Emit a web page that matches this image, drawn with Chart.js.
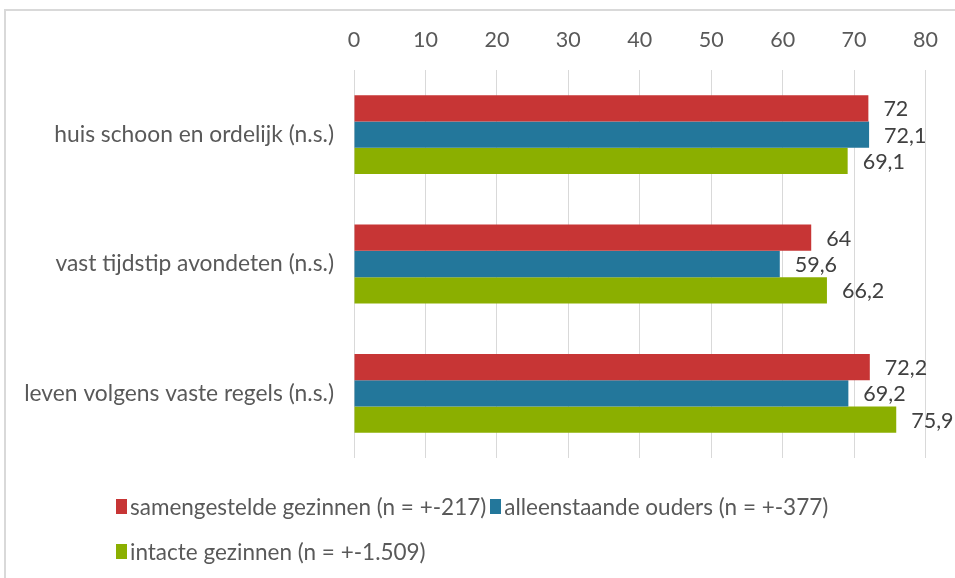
<!DOCTYPE html>
<html>
<head>
<meta charset="utf-8">
<script src="https://cdn.jsdelivr.net/npm/chart.js@4.4.1/dist/chart.umd.min.js"></script>
<style>
  body { margin: 0; background: #fff; }
  #wrap { position: relative; width: 955px; height: 578px; overflow: hidden; }
  #frame { position: absolute; left: 4px; top: 9px; width: 1000px; height: 700px; border: 2px solid #d9d9d9; box-sizing: border-box; }
  canvas { position: absolute; left: 0; top: 0; }
  .legend { position: absolute; left: 116px; font-family: Lato, sans-serif; font-size: 22.5px; color: #595959; white-space: nowrap; line-height: 26px; }
  .legend span.item { display: inline-flex; align-items: center; margin-right: 4px; }
  .legend i { display: inline-block; width: 11px; height: 15px; margin-right: 3px; }
</style>
</head>
<body>
<div id="wrap">
  <div id="frame"></div>
  <canvas id="chart" width="955" height="578"></canvas>
  <div class="legend" id="leg1" style="top:493px"></div>
  <div class="legend" id="leg2" style="top:538px"></div>
</div>
<script>
// categorieën en waarden (%)
const categories = ['huis schoon en ordelijk (n.s.)', 'vast tijdstip avondeten (n.s.)', 'leven volgens vaste regels (n.s.)'];
const seriesNames = ['samengestelde gezinnen (n = +-217)', 'alleenstaande ouders (n = +-377)', 'intacte gezinnen (n = +-1.509)'];
const samengesteld = [72, 64, 72.2];
const alleenstaand = [72.1, 59.6, 69.2];
const intact = [69.1, 66.2, 75.9];
const xTicks = [0, 10, 20, 30, 40, 50, 60, 70, 80];
const colors = ['#C73535', '#23779B', '#8BAF00'];

const font = { family: 'Lato, sans-serif', size: 21.5 };
const catFont = { family: 'Lato, sans-serif', size: 22.8 };

// legenda als html
const legRows = [[0, 1], [2]];
legRows.forEach((row, r) => {
    const div = document.getElementById('leg' + (r + 1));
    row.forEach(i => {
        const item = document.createElement('span');
        item.className = 'item';
        const sq = document.createElement('i');
        sq.style.background = colors[i];
        item.appendChild(sq);
        item.appendChild(document.createTextNode(seriesNames[i]));
        div.appendChild(item);
    });
});

const valueLabels = {
    id: 'valueLabels',
    afterDatasetsDraw(chart) {
        const c = chart.ctx;
        c.save();
        c.font = font.size + 'px ' + font.family;
        c.fillStyle = '#404040';
        c.textAlign = 'left';
        c.textBaseline = 'middle';
        chart.data.datasets.forEach((ds, d) => {
            chart.getDatasetMeta(d).data.forEach((bar, i) => {
                c.fillText(String(ds.data[i]).replace('.', ','), bar.x + 15, bar.y + 1);
            });
        });
        c.restore();
    }
};

new Chart(document.getElementById('chart').getContext('2d'), {
    type: 'bar',
    data: {
        labels: categories,
        datasets: [
            { label: seriesNames[0], data: samengesteld, backgroundColor: colors[0] },
            { label: seriesNames[1], data: alleenstaand, backgroundColor: colors[1] },
            { label: seriesNames[2], data: intact, backgroundColor: colors[2] }
        ]
    },
    options: {
        indexAxis: 'y',
        responsive: false,
        animation: false,
        layout: { padding: { left: 0, right: 29, top: 0, bottom: 120 } },
        datasets: { bar: { barPercentage: 1, categoryPercentage: 0.61 } },
        plugins: { legend: { display: false }, tooltip: { enabled: false } },
        scales: {
            x: {
                position: 'top',
                min: 0, max: 80,
                afterBuildTicks: s => { s.ticks = xTicks.map(v => ({ value: v })); },
                afterFit: s => { s.height = 70; },
                ticks: { color: '#595959', font: font, padding: 17 },
                grid: { color: '#d9d9d9', drawTicks: false },
                border: { display: false }
            },
            y: {
                afterFit: s => { s.width = 354; },
                ticks: { color: '#595959', font: catFont, padding: 20 },
                grid: { display: false, drawTicks: false },
                border: { display: false }
            }
        }
    },
    plugins: [valueLabels]
});
</script>
</body>
</html>
